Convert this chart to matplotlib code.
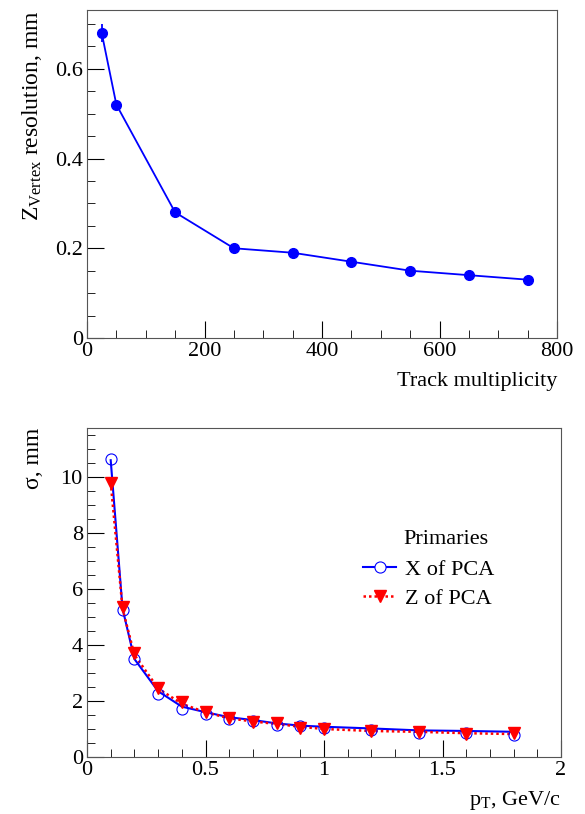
import matplotlib
matplotlib.use("Agg")
from matplotlib import pyplot as plt
from matplotlib.ticker import MultipleLocator

plt.rcParams["font.family"] = ["Liberation Serif", "DejaVu Serif"]
plt.rcParams["mathtext.fontset"] = "custom"
plt.rcParams["mathtext.rm"] = "Liberation Serif"
plt.rcParams["mathtext.it"] = "Liberation Serif:italic"

# top panel: vertex resolution vs multiplicity
mult = [25, 50, 150, 250, 350, 450, 550, 650, 750]
z_res = [0.68, 0.52, 0.28, 0.20, 0.19, 0.17, 0.15, 0.14, 0.13]
z_err = [0.02, 0.005, 0.005, 0.004, 0.004, 0.004, 0.003, 0.003, 0.003]

# bottom panel: PCA resolution vs pT
pt = [0.1, 0.15, 0.2, 0.3, 0.4, 0.5, 0.6, 0.7, 0.8, 0.9, 1.0, 1.2, 1.4, 1.6, 1.8]
x_pca = [10.65, 5.25, 3.5, 2.25, 1.7, 1.55, 1.35, 1.3, 1.15, 1.1, 1.05, 0.95, 0.85, 0.85, 0.78]
z_pca = [9.8, 5.35, 3.7, 2.45, 1.95, 1.6, 1.4, 1.25, 1.2, 1.05, 1.0, 0.92, 0.88, 0.82, 0.85]
x_line = [10.6, 5.3, 3.5, 2.35, 1.8, 1.6, 1.42, 1.32, 1.2, 1.12, 1.08, 1.02, 0.95, 0.93, 0.9]
z_line = [9.8, 5.3, 3.65, 2.45, 1.9, 1.6, 1.38, 1.27, 1.18, 1.08, 1.0, 0.93, 0.9, 0.85, 0.82]

fig = plt.figure(figsize=(5.85, 8.14), dpi=100)
W, H = 585, 814


def style(ax):
    ax.tick_params(which="both", direction="in", top=False, right=False,
                   labelsize=16, pad=3)
    ax.tick_params(which="major", length=12)
    ax.tick_params(which="minor", length=6)
    for s in ax.spines.values():
        s.set_color("#555555")


ax1 = fig.add_axes([87 / W, 1 - 338 / H, 470 / W, 328 / H])
ax1.errorbar(mult, z_res, yerr=z_err, color="blue", marker="o", ms=7,
             lw=1.3, elinewidth=1.3, capsize=0)
ax1.set_xlim(0, 800)
ax1.set_ylim(0, 0.731)
ax1.xaxis.set_major_locator(MultipleLocator(200))
ax1.xaxis.set_minor_locator(MultipleLocator(50))
ax1.yaxis.set_major_locator(MultipleLocator(0.2))
ax1.yaxis.set_minor_locator(MultipleLocator(0.05))
ax1.set_yticks([0, 0.2, 0.4, 0.6], ["0", "0.2", "0.4", "0.6"])
style(ax1)
ax1.set_xlabel("Track multiplicity", fontsize=16, loc="right", labelpad=8)
ax1.set_ylabel(r"Z$_{\rm Vertex}$ resolution, mm", fontsize=17, loc="top",
               labelpad=8)

ax2 = fig.add_axes([87 / W, 1 - 757 / H, 474 / W, 329 / H])
ax2.plot(pt, x_line, color="blue", lw=1.5)
ax2.plot(pt, z_line, color="red", lw=1.8, ls=(0, (1, 1.2)))
ax2.plot(pt, x_pca, ls="none", marker="o", ms=8, mfc="none", mec="blue",
         mew=0.8)
ax2.plot(pt, z_pca, ls="none", marker="v", ms=8, color="red")
h1, = ax2.plot([], [], color="blue", lw=1.5, marker="o", ms=8, mfc="white",
               mec="blue", mew=0.8)
h2, = ax2.plot([], [], color="red", lw=1.8, ls=(0, (1, 1.2)), marker="v",
               ms=8)
ax2.set_xlim(0, 2)
ax2.set_ylim(0, 11.75)
ax2.xaxis.set_major_locator(MultipleLocator(0.5))
ax2.xaxis.set_minor_locator(MultipleLocator(0.1))
ax2.yaxis.set_major_locator(MultipleLocator(2))
ax2.yaxis.set_minor_locator(MultipleLocator(0.5))
ax2.set_xticks([0, 0.5, 1, 1.5, 2], ["0", "0.5", "1", "1.5", "2"])
style(ax2)
ax2.set_xlabel(r"p$_{\rm T}$, GeV/c", fontsize=16, loc="right", labelpad=6)
ax2.set_ylabel("σ, mm", fontsize=17, loc="top", labelpad=12)
ax2.text(0.667, 0.662, "Primaries", transform=ax2.transAxes, fontsize=16,
         va="center", ha="left")
ax2.legend([h1, h2], ["X of PCA", "Z of PCA"], loc="upper left",
           bbox_to_anchor=(0.582, 0.60), frameon=False, borderpad=0,
           borderaxespad=0, fontsize=16, handlelength=1.5,
           handletextpad=0.4, labelspacing=0.38)

fig.savefig("out.png", dpi=100)
